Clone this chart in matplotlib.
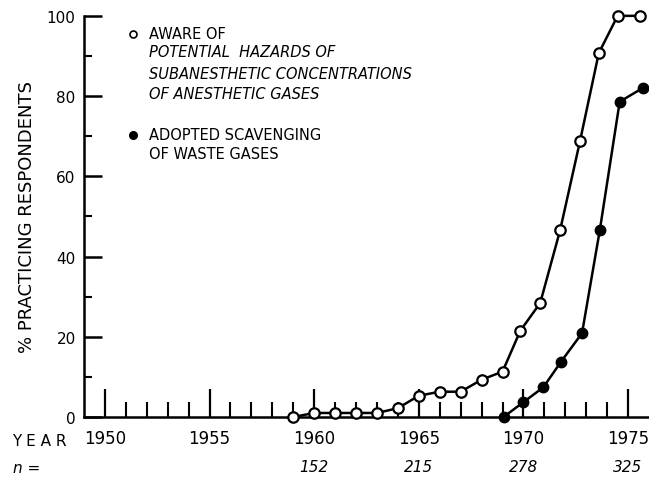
import matplotlib.pyplot as plt

# 知っていた（白丸）と排ガス処理を導入した（黒丸）の割合
aware_years = [1959, 1960, 1961, 1962, 1963, 1964, 1965, 1966, 1967, 1968,
               1969, 1969.85, 1970.8, 1971.75, 1972.7, 1973.6, 1974.5, 1975.55]
aware_pct = [0, 1, 1, 1, 1, 2.2, 5.3, 6.3, 6.3, 9.3,
             11.3, 21.5, 28.4, 46.5, 68.7, 90.7, 100, 100]

adopted_years = [1969.05, 1970.0, 1970.95, 1971.8, 1972.8, 1973.65, 1974.6, 1975.7]
adopted_pct = [0, 3.7, 7.4, 13.8, 20.9, 46.6, 78.6, 82]

year_ticks = [1950, 1955, 1960, 1965, 1970, 1975]
n_years = [1960, 1965, 1970, 1975]
n_labels = ['152', '215', '278', '325']

fig = plt.figure(figsize=(6.49, 4.81), dpi=100)
ax = fig.add_axes([0.1294, 0.131, 0.8706, 0.834])

ax.plot(aware_years, aware_pct, color='black', lw=1.8, marker='o', ms=7.5,
        mfc='white', mec='black', mew=1.6, clip_on=False, zorder=3)
ax.plot(adopted_years, adopted_pct, color='black', lw=1.8, marker='o', ms=7.5,
        mfc='black', mec='black', clip_on=False, zorder=3)

ax.set_xlim(1949, 1976)
ax.set_ylim(0, 100)

# 軸の見た目
for side in ['top', 'right']:
    ax.spines[side].set_visible(False)
for side in ['left', 'bottom']:
    ax.spines[side].set_linewidth(1.8)

ax.set_yticks(range(0, 101, 20))
ax.set_yticks(range(10, 100, 20), minor=True)
ax.set_xticks(year_ticks)
ax.set_xticks(range(1951, 1976), minor=True)
ax.tick_params(axis='y', which='major', direction='in', length=13, width=1.8,
               labelsize=11, pad=6)
ax.tick_params(axis='y', which='minor', direction='in', length=6, width=1.5)
ax.tick_params(axis='x', which='major', direction='in', length=20, width=1.6,
               labelsize=12, pad=9)
ax.tick_params(axis='x', which='minor', direction='in', length=11, width=1.5)

ax.set_ylabel('% PRACTICING RESPONDENTS', fontsize=13, labelpad=8)

# 凡例（手書き風）
lx, tx = 1951.35, 1952.1
ax.plot([lx], [95.5], 'o', ms=5, mfc='white', mec='black', mew=1.2)
ax.text(tx, 95.5, 'AWARE OF', fontsize=10.5, va='center')
ax.text(tx, 91.0, 'POTENTIAL  HAZARDS OF', fontsize=10.5, va='center',
        style='italic')
ax.text(tx, 85.6, 'SUBANESTHETIC CONCENTRATIONS', fontsize=10.5,
        va='center', style='italic')
ax.text(tx, 80.6, 'OF ANESTHETIC GASES', fontsize=10.5, va='center',
        style='italic')
ax.plot([lx], [70.3], 'o', ms=5.5, color='black')
ax.text(tx, 70.3, 'ADOPTED SCAVENGING', fontsize=10.5, va='center')
ax.text(tx, 65.6, 'OF WASTE GASES', fontsize=10.5, va='center')

# 年と回答者数
fig.text(0.018, 1 - 442 / 481, 'Y E A R', fontsize=11, va='center')
fig.text(0.02, 1 - 469 / 481, 'n =', fontsize=11, va='center', style='italic')
for yr, lab in zip(n_years, n_labels):
    ax.annotate(lab, xy=(yr, 0), xytext=(0, -36), textcoords='offset points',
                ha='center', va='center', fontsize=11, style='italic')

fig.savefig('out.png', dpi=100)
